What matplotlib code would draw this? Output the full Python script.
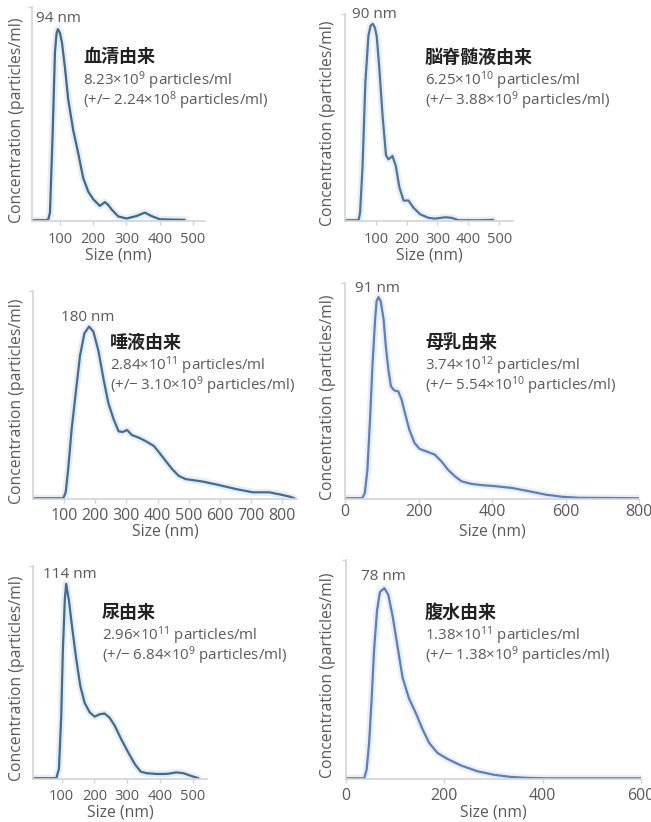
import numpy as np
import matplotlib
matplotlib.use('Agg')
import matplotlib.pyplot as plt

plt.rcParams['font.family'] = ['Open Sans', 'Noto Sans CJK JP', 'DejaVu Sans']
plt.rcParams['mathtext.default'] = 'regular'

# size distributions (nm vs. relative concentration, peak = 1)
serum_size = [16, 60, 65, 70, 78, 85, 90, 94, 100, 106, 115, 125, 140, 155, 170, 185, 200,
              220, 235, 245, 255, 275, 300, 330, 355, 375, 400, 475]
serum_conc = [0, 0, 0.005, 0.04, 0.45, 0.88, 0.98, 1.0, 0.98, 0.93, 0.80, 0.63, 0.47, 0.35,
              0.22, 0.15, 0.11, 0.075, 0.095, 0.08, 0.057, 0.02, 0.009, 0.022, 0.04, 0.022,
              0.005, 0.002]

csf_size = [0, 44, 49, 57, 66, 76, 83, 90, 97, 103, 111, 122, 133, 141, 154, 165, 176, 190,
            206, 222, 244, 271, 292, 325, 346, 368, 400, 443, 481]
csf_conc = [0, 0, 0.04, 0.276, 0.70, 0.94, 0.99, 1.0, 0.98, 0.936, 0.78, 0.53, 0.33, 0.31,
            0.327, 0.275, 0.17, 0.10, 0.10, 0.064, 0.03, 0.012, 0.008, 0.015, 0.012, 0.0,
            0.0, 0.0, 0.002]

saliva_size = [0, 97, 105, 113, 124, 137, 151, 165, 180, 194, 210, 227, 242, 259, 275, 288,
               302, 318, 340, 361, 388, 404, 426, 447, 468, 490, 544, 598, 652, 706, 759,
               792, 824, 840]
saliva_conc = [0, 0, 0.035, 0.17, 0.40, 0.61, 0.83, 0.96, 1.0, 0.97, 0.86, 0.69, 0.555,
               0.46, 0.39, 0.386, 0.398, 0.368, 0.353, 0.334, 0.305, 0.27, 0.218, 0.17,
               0.131, 0.112, 0.098, 0.077, 0.054, 0.035, 0.035, 0.023, 0.01, 0.0]

milk_size = [0, 47, 54, 61, 68, 75, 82, 86, 91, 97, 105, 111, 118, 125, 134, 145, 154, 163,
             175, 189, 203, 221, 244, 262, 280, 299, 317, 344, 372, 408, 454, 500, 545, 591,
             637, 800]
milk_conc = [0, 0, 0.026, 0.142, 0.39, 0.67, 0.89, 0.98, 1.0, 0.98, 0.89, 0.755, 0.64,
             0.556, 0.536, 0.531, 0.49, 0.424, 0.341, 0.275, 0.245, 0.233, 0.217, 0.184,
             0.142, 0.109, 0.084, 0.071, 0.065, 0.060, 0.051, 0.035, 0.018, 0.007, 0.002, 0]

urine_size = [13, 84, 92, 99, 104, 110, 114, 122, 133, 145, 157, 170, 186, 201, 216, 231,
              246, 262, 282, 303, 323, 341, 358, 389, 420, 450, 471, 491, 517]
urine_conc = [0, 0, 0.048, 0.32, 0.66, 0.92, 1.0, 0.92, 0.765, 0.61, 0.476, 0.389, 0.338,
              0.317, 0.329, 0.333, 0.312, 0.27, 0.20, 0.133, 0.073, 0.034, 0.026, 0.022,
              0.022, 0.03, 0.026, 0.014, 0.0]

ascites_size = [0, 37, 42, 47, 52, 57, 63, 69, 78, 86, 95, 105, 115, 128, 142, 156, 169,
                186, 206, 234, 267, 301, 335, 369, 403, 600]
ascites_conc = [0, 0, 0.046, 0.186, 0.41, 0.67, 0.88, 0.98, 1.0, 0.965, 0.85, 0.69, 0.53,
                0.42, 0.343, 0.256, 0.186, 0.133, 0.102, 0.067, 0.037, 0.018, 0.007, 0.002,
                0, 0]

titles = ['血清由来', '脳脊髄液由来', '唾液由来', '母乳由来', '尿由来', '腹水由来']
peak_labels = ['94 nm', '90 nm', '180 nm', '91 nm', '114 nm', '78 nm']
totals = ['8.23×10$^{9}$ particles/ml', '6.25×10$^{10}$ particles/ml',
          '2.84×10$^{11}$ particles/ml', '3.74×10$^{12}$ particles/ml',
          '2.96×10$^{11}$ particles/ml', '1.38×10$^{11}$ particles/ml']
errors = ['(+/− 2.24×10$^{8}$ particles/ml)', '(+/− 3.88×10$^{9}$ particles/ml)',
          '(+/− 3.10×10$^{9}$ particles/ml)', '(+/− 5.54×10$^{10}$ particles/ml)',
          '(+/− 6.84×10$^{9}$ particles/ml)', '(+/− 1.38×10$^{9}$ particles/ml)']
xticks = [[100, 200, 300, 400, 500], [100, 200, 300, 400, 500],
          [100, 200, 300, 400, 500, 600, 700, 800], [0, 200, 400, 600, 800],
          [100, 200, 300, 400, 500], [0, 200, 400, 600]]

sizes = [serum_size, csf_size, saliva_size, milk_size, urine_size, ascites_size]
concs = [serum_conc, csf_conc, saliva_conc, milk_conc, urine_conc, ascites_conc]

W, H = 651, 822
fig = plt.figure(figsize=(W / 100, H / 100), dpi=100)

# axes boxes in pixels: left, right, top, bottom
boxes = [(32, 205, 7, 221), (345, 513, 14, 221), (33, 297, 291, 499),
         (345, 639, 283, 499), (33, 207, 566, 779), (346, 641, 560, 779)]
xlims = [(16, 536), (0, 545), (0, 848), (0, 800), (13, 543), (0, 600)]
ytops = [1.116, 1.05, 1.207, 1.07, 1.092, 1.148]
colors = ['#3b6b8f', '#4a77a0', '#3f6f98', '#5a80c0', '#3d6d92', '#5a7fc0']
tick_fs = [10.5, 10.5, 11.5, 11.5, 10.5, 11.5]
# text anchors in pixels: peak label (cx, cy), title block (left, cy)
peak_pos = [(58, 19), (374, 15), (88, 317), (377, 288), (70, 575), (383, 577)]
title_pos = [(83, 57), (425, 57), (110, 342), (425, 342), (102, 612), (425, 612)]
ylabel_x = [17, 328, 17, 328, 17, 328]
tick_y = [238, 238, 515, 510, 795, 795]
xlabel_y = [255, 255, 532, 532, 812, 812]

grey = '#d4d4d4'
txt = '#595959'

def fx(x):
    return x / W

def fy(y):
    return 1 - y / H

for i in range(6):
    l, r, t, b = boxes[i]
    ax = fig.add_axes([fx(l), fy(b), (r - l) / W, (b - t) / H])
    ax.plot(sizes[i], concs[i], color=colors[i], lw=5, alpha=0.12,
            solid_joinstyle='round', solid_capstyle='round')
    ax.plot(sizes[i], concs[i], color=colors[i], lw=1.6,
            solid_joinstyle='round', solid_capstyle='round')
    ax.set_xlim(*xlims[i])
    ax.set_ylim(-0.004, ytops[i])
    for s in ['top', 'right']:
        ax.spines[s].set_visible(False)
    for s in ['left', 'bottom']:
        ax.spines[s].set_color(grey)
        ax.spines[s].set_linewidth(1.2)
    ax.set_xticks(xticks[i])
    ax.set_xticklabels([str(v) for v in xticks[i]])
    ax.set_yticks([ytops[i]])
    ax.set_yticklabels([])
    ax.tick_params(axis='both', color=grey, length=3, width=1, labelcolor=txt)
    # pad so the label centres sit on tick_y (pixels -> points)
    half = tick_fs[i] * 100 / 72 * 0.5
    ax.tick_params(axis='x', labelsize=tick_fs[i],
                   pad=max(0.5, (tick_y[i] - half - b - 3) * 0.72))
    ax.patch.set_alpha(0)

    fig.text(fx(ylabel_x[i]), fy((t + b) / 2 + 6), 'Concentration (particles/ml)',
             rotation=90, ha='center', va='center', fontsize=11.3, color=txt)
    fig.text(fx((l + r) / 2), fy(xlabel_y[i]), 'Size (nm)', ha='center', va='center',
             fontsize=11.3, color=txt)
    px, py = peak_pos[i]
    fig.text(fx(px), fy(py), peak_labels[i], ha='center', va='center', fontsize=11,
             color=txt)
    tx, ty = title_pos[i]
    fig.text(fx(tx), fy(ty), titles[i], ha='left', va='center', fontsize=13,
             fontweight='bold', color='#222222', family='Noto Sans CJK JP')
    # concentration and its spread as one two-line block
    fig.text(fx(tx), fy(ty + 34), totals[i] + '\n' + errors[i], ha='left',
             va='center', fontsize=10.8, color=txt, linespacing=0.82)

fig.savefig('out.png', dpi=100, facecolor='white')
